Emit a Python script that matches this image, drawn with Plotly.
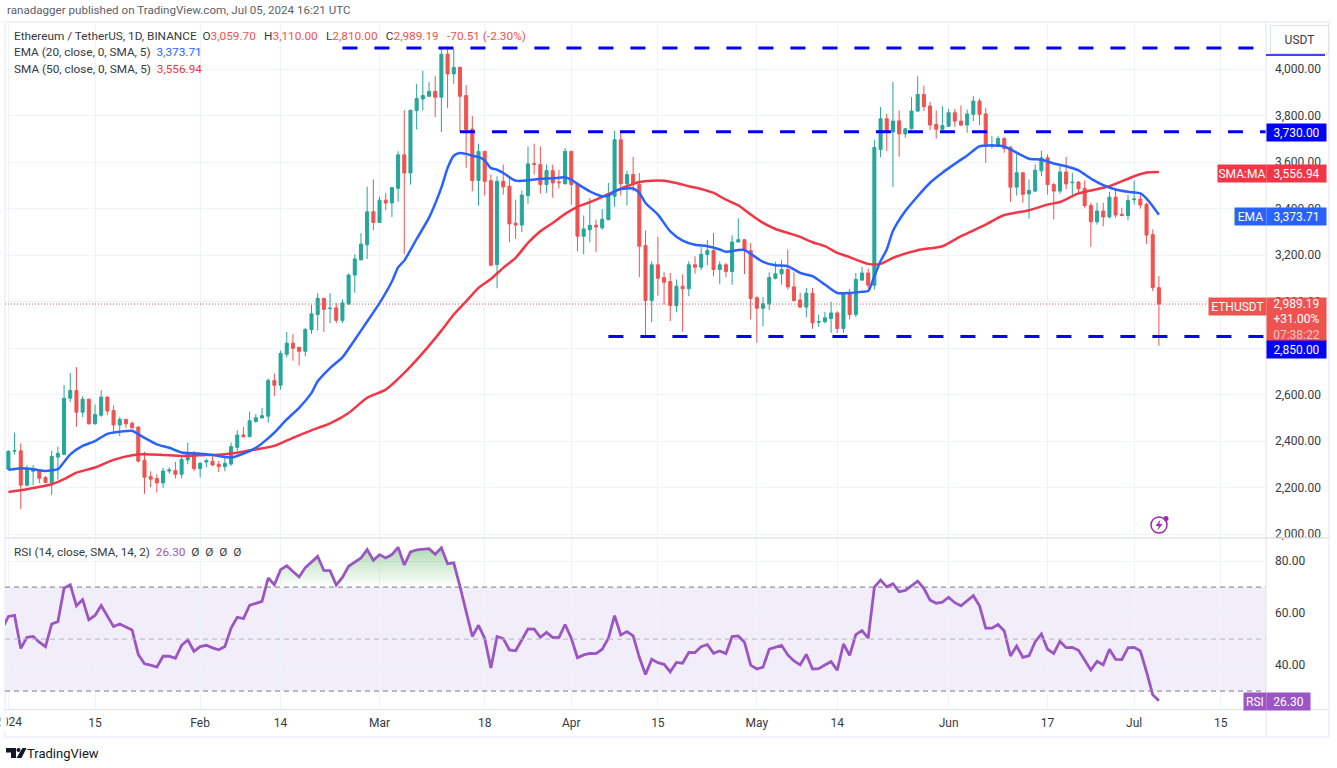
import pandas as pd
import plotly.graph_objects as go
from plotly.subplots import make_subplots

# daily candles ETHUSDT, Jan 1 - Jul 5 2024
opens = [2279,2357,2358,2210,2270,2272,2243,2222,2331,2343,
         2584,2617,2524,2580,2474,2511,2589,2531,2469,2493,
         2476,2460,2317,2247,2239,2220,2271,2273,2257,2319,
         2347,2281,2310,2313,2300,2290,2301,2373,2426,2419,
         2484,2499,2507,2660,2640,2773,2821,2803,2786,2879,
         2944,3014,2970,2973,2919,2990,3114,3179,3244,3386,
         3340,3436,3424,3487,3631,3553,3821,3871,3883,3904,
         3879,4064,3979,4007,3886,3742,3521,3646,3520,3159,
         3517,3496,3337,3329,3456,3593,3589,3503,3563,3514,
         3506,3646,3506,3281,3309,3328,3317,3352,3453,3696,
         3506,3546,3503,3241,3004,3158,3103,3086,2983,3066,
         3055,3158,3148,3202,3219,3138,3158,3129,3256,3266,
         3219,3016,2971,2990,3100,3119,3138,3063,3007,2976,
         3036,2911,2913,2927,2951,2884,3036,2944,3092,3123,
         3070,3654,3786,3729,3777,3721,3743,3819,3891,3841,
         3762,3741,3754,3812,3776,3759,3805,3862,3807,3671,
         3673,3701,3664,3492,3554,3463,3475,3562,3618,3503,
         3475,3557,3511,3514,3486,3413,3343,3389,3364,3449,
         3375,3370,3438,3441,3418,3288,3059.70]
highs = [2360,2436,2390,2296,2296,2280,2250,2358,2376,2641,
         2693,2718,2593,2582,2557,2619,2593,2553,2504,2495,
         2484,2464,2354,2270,2257,2284,2287,2310,2333,2393,
         2357,2310,2324,2333,2314,2336,2393,2447,2461,2527,
         2516,2543,2669,2690,2789,2869,2860,2804,2886,2986,
         3036,3014,3036,2993,3010,3121,3203,3294,3494,3526,
         3451,3466,3490,3646,3823,3823,3936,3993,3943,3969,
         4086,4097,4086,4012,3931,3798,3679,3646,3546,3539,
         3589,3531,3438,3477,3667,3679,3667,3589,3589,3567,
         3660,3646,3510,3370,3445,3352,3398,3510,3735,3732,
         3563,3622,3553,3305,3173,3278,3126,3123,3095,3116,
         3173,3195,3234,3264,3295,3173,3166,3285,3358,3269,
         3252,3023,3020,3126,3171,3178,3224,3126,3037,3059,
         3059,2944,2956,2999,2958,3040,3055,3123,3149,3142,
         3696,3836,3807,3945,3822,3743,3879,3969,3929,3859,
         3822,3840,3829,3829,3843,3826,3883,3873,3833,3711,
         3711,3707,3668,3644,3554,3525,3590,3650,3633,3511,
         3587,3622,3554,3518,3521,3425,3425,3425,3472,3482,
         3403,3458,3521,3460,3425,3310,3110.00]
lows = [2275,2342,2107,2204,2210,2219,2219,2169,2233,2339,
        2569,2461,2503,2472,2471,2504,2511,2431,2421,2457,
        2453,2307,2173,2201,2179,2199,2259,2239,2239,2300,
        2271,2244,2286,2293,2267,2270,2293,2356,2414,2416,
        2479,2499,2479,2593,2621,2760,2746,2724,2764,2861,
        2876,2869,2907,2907,2907,2985,3038,3178,3183,3307,
        3340,3393,3364,3429,3204,3503,3740,3821,3880,3794,
        3729,3833,3936,3730,3575,3474,3413,3456,3152,3057,
        3460,3255,3269,3299,3421,3546,3464,3467,3447,3486,
        3506,3417,3216,3203,3255,3212,3309,3350,3407,3456,
        3413,3474,3105,2854,2911,3026,2987,2916,2954,2870,
        3023,3120,3135,3156,3109,3075,3105,3072,3255,3118,
        2923,2823,2894,2963,3095,3073,3052,3001,2973,2933,
        2883,2891,2906,2865,2865,2865,2923,2934,3092,3056,
        3052,3621,3647,3493,3623,3704,3740,3816,3819,3737,
        3701,3723,3750,3752,3754,3726,3776,3759,3597,3658,
        3664,3640,3429,3456,3425,3357,3472,3539,3460,3353,
        3463,3482,3446,3468,3403,3235,3331,3324,3357,3360,
        3367,3349,3417,3400,3248,3045,2810.00]
closes = [2356,2358,2210,2279,2279,2240,2222,2334,2347,2584,
          2617,2524,2580,2474,2514,2589,2529,2469,2493,2474,
          2457,2314,2244,2236,2220,2271,2276,2257,2321,2347,
          2281,2304,2316,2297,2290,2304,2376,2426,2419,2487,
          2500,2509,2660,2640,2777,2821,2799,2786,2880,2947,
          3014,2966,2971,2919,2994,3114,3183,3247,3386,3340,
          3436,3424,3490,3631,3553,3823,3873,3886,3904,3879,
          4064,3979,4007,3883,3740,3521,3646,3517,3156,3517,
          3493,3334,3329,3458,3592,3590,3503,3563,3510,3511,
          3646,3503,3281,3312,3328,3321,3354,3453,3696,3506,
          3546,3503,3238,3004,3158,3100,3083,2983,3066,3055,
          3158,3148,3203,3219,3138,3158,3129,3256,3266,3219,
          3013,2971,2990,3103,3119,3138,3063,3004,2976,3036,
          2908,2914,2930,2951,2884,3036,2944,3095,3123,3070,
          3663,3786,3729,3776,3721,3743,3819,3891,3838,3759,
          3741,3757,3812,3776,3759,3807,3862,3805,3668,3675,
          3701,3658,3492,3554,3461,3478,3565,3618,3503,3475,
          3557,3506,3513,3485,3413,3343,3389,3364,3449,3372,
          3370,3435,3441,3415,3286,3060,2989.19]

# EMA 20, read every couple of days
ema_day = [0,2,4,6,7,8,9,10,12,14,16,18,20,21,22,24,26,28,30,32,34,36,38,40,41,43,45,47,49,50,
           52,54,56,58,60,62,63,64,66,68,70,71,72,73,74,75,76,77,78,79,80,82,84,86,88,90,91,92,94,96,
           97,98,99,101,102,103,105,107,109,111,113,115,116,118,119,120,122,124,126,128,130,132,134,136,138,139,140,141,142,143,
           145,147,149,151,153,155,157,159,161,163,165,167,169,171,173,175,177,179,181,183,184,185,186]
ema_val = [2276,2283,2279,2271,2274,2279,2310,2343,2379,2400,2431,2440,2444,2429,2414,2386,2371,2351,2347,2343,2336,2329,2346,2371,2390,2436,2493,2543,2607,2657,
           2714,2760,2836,2914,2993,3086,3147,3176,3269,3361,3490,3574,3627,3639,3635,3627,3622,3607,3574,3567,3553,3520,3521,3528,3530,3534,3524,3506,3474,3453,
           3456,3474,3484,3486,3467,3424,3374,3302,3262,3244,3238,3224,3214,3222,3222,3205,3171,3156,3152,3123,3109,3073,3037,3037,3042,3045,3109,3174,3224,3303,
           3389,3453,3511,3554,3592,3628,3668,3671,3667,3640,3614,3610,3594,3582,3564,3529,3501,3482,3472,3465,3443,3410,3373.71]

# SMA 50
sma_day = [0,3,7,9,11,14,17,20,22,25,28,31,34,37,40,43,46,49,52,55,58,61,64,67,70,72,74,76,78,80,
           82,84,86,88,90,92,94,96,98,100,102,104,106,108,110,112,114,116,118,120,122,124,126,128,130,132,134,136,139,141,
           143,147,151,154,158,161,165,168,170,173,178,182,184,186]
sma_val = [2181,2193,2214,2236,2264,2286,2319,2339,2343,2340,2336,2339,2341,2350,2364,2379,2414,2446,2476,2521,2586,2621,2693,2779,2875,2944,3001,3059,3097,3145,
           3188,3252,3302,3338,3377,3407,3427,3450,3474,3496,3514,3520,3520,3510,3496,3484,3467,3438,3414,3374,3338,3312,3295,3278,3255,3238,3209,3191,3162,3162,
           3188,3221,3238,3281,3331,3372,3393,3417,3428,3465,3496,3539,3555,3556.94]

rsi = [58.7,59.1,46.4,50.7,51.0,48.8,47.1,55.8,56.7,69.6,
       70.9,62.8,65.2,57.4,59.1,62.9,58.7,54.8,55.8,54.6,
       53.5,44.1,40.5,40.0,39.2,43.4,43.4,42.6,47.6,49.7,
       45.3,47.1,47.6,46.6,45.9,47.1,54.2,58.4,57.9,63.0,
       63.8,64.5,73.5,70.9,76.7,78.2,76.0,73.9,77.5,79.7,
       81.8,76.4,76.3,70.8,73.7,78.0,79.7,81.2,84.4,80.3,
       82.5,81.2,82.5,85.3,78.5,83.5,84.3,84.5,84.8,82.6,
       85.1,79.0,79.3,70.3,61.2,51.0,55.3,50.3,38.9,51.0,
       50.2,45.8,45.5,49.9,53.9,53.8,50.7,52.6,50.6,50.6,
       55.6,50.3,42.8,43.9,44.5,44.4,46.1,50.3,59.0,51.6,
       52.9,51.2,43.0,36.4,42.2,40.9,40.3,37.4,41.0,40.7,
       44.9,44.8,47.1,47.9,44.5,45.4,44.4,51.0,51.2,48.8,
       40.0,38.5,39.2,46.1,46.8,47.6,43.9,41.6,40.1,44.1,
       38.5,38.6,40.0,41.3,38.0,48.1,43.7,51.7,53.3,50.4,
       70.0,72.7,70.1,71.3,68.2,68.7,70.5,72.3,69.5,65.0,
       63.8,64.2,66.1,64.0,62.8,64.6,66.7,62.8,54.2,54.2,
       55.6,53.1,43.5,47.3,43.0,43.6,49.0,52.0,46.1,44.5,
       49.1,46.7,46.8,45.7,41.7,38.1,41.4,40.1,46.1,42.2,
       42.1,46.6,46.8,45.4,37.4,28.6,26.3]
rsi_dec31 = 54.0  # the day before the first candle, just visible at the left edge

# drawn levels (first day, price)
level_day = ["2024-02-24", "2024-03-14", "2024-04-07"]
level_val = [4090, 3730, 2850]

price_ticks = [2000, 2200, 2400, 2600, 2800, 3000, 3200, 3400, 3600, 3800, 4000]
rsi_ticks = [40, 60, 80]
time_ticks = ["2024-01-01", "2024-01-15", "2024-02-01", "2024-02-14", "2024-03-01", "2024-03-18", "2024-04-01",
              "2024-04-15", "2024-05-01", "2024-05-14", "2024-06-01", "2024-06-17", "2024-07-01", "2024-07-15"]
time_text = ["2024", "15", "Feb", "14", "Mar", "18", "Apr", "15", "May", "14", "Jun", "17", "Jul", "15"]

FONT = "Roboto"
UP = "#26a69a"
DOWN = "#ef5350"
GRID = "#f0f3fa"
TXT = "#363a45"
X_RANGE = ["2023-12-31 10:48", "2024-07-22 07:30"]

dates = pd.date_range("2024-01-01", periods=len(closes))


# pixel position on the page -> paper coords
def px(x):
    return (x - 5) / 1261


def py(y):
    return (709 - y) / 687


fig = make_subplots(rows=2, cols=1, shared_xaxes=True, row_heights=[515, 170], vertical_spacing=2 / 687)

fig.add_trace(go.Candlestick(x=dates, open=opens, high=highs, low=lows, close=closes,
                             increasing=dict(line=dict(color=UP, width=1), fillcolor=UP),
                             decreasing=dict(line=dict(color=DOWN, width=1), fillcolor=DOWN),
                             whiskerwidth=0), row=1, col=1)
fig.add_trace(go.Scatter(x=dates[sma_day], y=sma_val, mode="lines",
                         line=dict(color="#f23645", width=2.5, shape="spline", smoothing=0.6)), row=1, col=1)
fig.add_trace(go.Scatter(x=dates[ema_day], y=ema_val, mode="lines",
                         line=dict(color="#2962ff", width=2.5, shape="spline", smoothing=0.6)), row=1, col=1)

# last price, dotted
fig.add_trace(go.Scatter(x=[X_RANGE[0], "2024-07-13"], y=[closes[-1], closes[-1]], mode="lines",
                         line=dict(color=DOWN, width=1, dash="1px,2px")), row=1, col=1)

# hand drawn support / resistance
for day, val in zip(level_day, level_val):
    fig.add_trace(go.Scatter(x=[day, X_RANGE[1]], y=[val, val], mode="lines",
                             line=dict(color="#0000ff", width=3, dash="15px,17px")), row=1, col=1)

# overbought part of the RSI
ob_idx = list(range(41, 75))
fig.add_trace(go.Scatter(x=dates[ob_idx], y=[max(rsi[i], 70) for i in ob_idx], mode="lines", line=dict(width=0),
                         fill="toself",
                         fillgradient=dict(type="vertical", colorscale=[[0, "rgba(76,175,80,0)"], [1, "rgba(76,175,80,0.45)"]])),
              row=2, col=1)
fig.add_trace(go.Scatter(x=["2023-12-31"] + list(dates), y=[rsi_dec31] + rsi, mode="lines",
                         line=dict(color="#9b55c4", width=2.8)), row=2, col=1)

# RSI band and its dashed lines
fig.add_shape(type="rect", xref="x2 domain", yref="y2", x0=0, x1=1, y0=30, y1=70,
              fillcolor="rgba(126,87,194,0.1)", line_width=0, layer="below")
for lvl, col in [(70, "#787b86"), (50, "#b2b5be"), (30, "#787b86")]:
    fig.add_shape(type="line", xref="x2 domain", yref="y2", x0=0, x1=1, y0=lvl, y1=lvl,
                  line=dict(color=col, width=1, dash="5px,4px"))

# frame and separators
fig.add_shape(type="rect", xref="paper", yref="paper", x0=px(5), x1=px(1329), y0=py(22), y1=py(737),
              line=dict(color=GRID, width=2), layer="below")
fig.add_shape(type="line", xref="paper", yref="paper", x0=px(1266), x1=px(1266), y0=py(22), y1=py(737),
              line=dict(color="#e0e3eb", width=1))
fig.add_shape(type="line", xref="paper", yref="paper", x0=px(5), x1=px(1329), y0=py(538), y1=py(538),
              line=dict(color="#e0e3eb", width=1.5))
fig.add_shape(type="line", xref="paper", yref="paper", x0=px(5), x1=px(1329), y0=py(709.5), y1=py(709.5),
              line=dict(color="#e0e3eb", width=1))
# bottom edge of the level tag that sits under the USDT button
fig.add_shape(type="line", xref="paper", yref="paper", x0=px(1266), x1=px(1325), y0=py(55), y1=py(55),
              line=dict(color="#0000ff", width=1.5))

# alert icon
fig.add_shape(type="circle", xref="paper", yref="paper", x0=px(1151), x1=px(1167), y0=py(517), y1=py(533),
              line=dict(color="#9c27b0", width=1.5), fillcolor="white")
fig.add_shape(type="circle", xref="paper", yref="paper", x0=px(1163.5), x1=px(1168.5), y0=py(516), y1=py(521),
              line_width=0, fillcolor="#9c27b0")
bolt = [(1160.5, 519.5), (1155.5, 526), (1158.8, 526), (1157.5, 530.5), (1162.5, 524), (1159.2, 524)]
fig.add_shape(type="path", xref="paper", yref="paper", line_width=0, fillcolor="#9c27b0",
              path="M " + " L ".join(f"{px(a)} {py(b)}" for a, b in bolt) + " Z")

# TradingView logo
logo = [[(6, 748), (16, 748), (16, 758), (11, 758), (11, 752.5), (6, 752.5)],
        [(22.5, 748), (26.5, 748), (21.5, 758), (16.5, 758)]]
for pts in logo:
    fig.add_shape(type="path", xref="paper", yref="paper", line_width=0, fillcolor="#131722",
                  path="M " + " L ".join(f"{px(a)} {py(b)}" for a, b in pts) + " Z")
fig.add_shape(type="circle", xref="paper", yref="paper", x0=px(16.5), x1=px(20.5), y0=py(748), y1=py(752),
              line_width=0, fillcolor="#131722")


def label(x, y, text, size=11.8, color=TXT):
    fig.add_annotation(xref="paper", yref="paper", x=px(x), y=py(y), xanchor="left", yanchor="middle",
                       text=text, showarrow=False, font=dict(family=FONT, size=size, color=color))


def tag(x, y, w, h, text, bg, size=12):
    fig.add_annotation(xref="paper", yref="paper", x=px(x), y=py(y), xanchor="left", yanchor="top", width=w, height=h,
                       text=text, showarrow=False, bgcolor=bg, borderpad=0, align="center",
                       font=dict(family=FONT, size=size, color="white"))


label(5, 10, "ranadagger published on TradingView.com, Jul 05, 2024 16:21 UTC", size=11.6, color="#5d606b")
red = DOWN
gap = "  \u2009"
label(12, 36, "Ethereum / TetherUS, 1D, BINANCE  O<span style='color:%s'>3,059.70</span>%sH<span style='color:%s'>3,110.00</span>"
              "%sL<span style='color:%s'>2,810.00</span>%sC<span style='color:%s'>2,989.19</span>"
              "%s<span style='color:%s'>-70.51 (-2.30%%)</span>" % (red, gap, red, gap, red, gap, red, gap, red))
label(12, 52, "EMA (20, close, 0, SMA, 5)  <span style='color:#2962ff'>3,373.71</span>")
label(12, 69, "SMA (50, close, 0, SMA, 5)  <span style='color:#f23645'>3,556.94</span>")
label(12, 552, "RSI (14, close, SMA, 14, 2)  <span style='color:#9b55c4'>26.30</span>  Ø  Ø  Ø  Ø")
label(25, 753, "TradingView", size=13, color="#131722")

# first time label is cut by the frame in the original
fig.add_annotation(xref="paper", yref="paper", x=px(8.4), y=py(722), xanchor="center", yanchor="middle",
                   text="2024", showarrow=False, font=dict(family=FONT, size=12, color=TXT))
fig.add_annotation(xref="paper", yref="paper", x=px(0), y=py(714), xanchor="left", yanchor="top", width=5, height=16,
                   text=" ", showarrow=False, bgcolor="white", borderpad=0)

# axis tags
fig.add_annotation(xref="paper", yref="paper", x=px(1270), y=py(25), xanchor="left", yanchor="top", width=55, height=25,
                   text="USDT", showarrow=False, bgcolor="white", bordercolor="#e0e3eb", borderwidth=1,
                   font=dict(family=FONT, size=12, color=TXT))
tag(1266, 123, 59, 17, "3,730.00", "#0000ff")
tag(1217, 164, 48, 17, "SMA:MA", "#f23645")
tag(1266, 164, 59, 17, "3,556.94", "#f23645")
tag(1234, 207, 31, 17, "EMA", "#2962ff")
tag(1266, 207, 59, 17, "3,373.71", "#2962ff")
tag(1208, 297, 57, 17, "ETHUSDT", DOWN)
tag(1266, 297, 59, 43, "2,989.19<br>+31.00%<br><span style='color:#f9c4c3'>07:38:22</span>", DOWN)
tag(1266, 340, 59, 17, "2,850.00", "#0000ff")
tag(1243, 692, 22, 17, "RSI", "#9b55c4")
tag(1266, 692, 43, 17, "26.30", "#9b55c4")

fig.update_layout(width=1337, height=768, showlegend=False, paper_bgcolor="white", plot_bgcolor="white",
                  margin=dict(l=5, r=71, t=22, b=59), font=dict(family=FONT, size=12, color=TXT), hovermode=False)
fig.update_xaxes(range=X_RANGE, tickvals=time_ticks, ticktext=time_text, showgrid=True, gridcolor=GRID, gridwidth=1,
                 zeroline=False, showline=False, ticks="", rangeslider_visible=False, tickfont=dict(size=12),
                 ticklabelstandoff=5)
fig.update_yaxes(side="right", showgrid=True, gridcolor=GRID, gridwidth=1, zeroline=False, showline=False, ticks="",
                 tickformat=",.2f", ticklabelstandoff=8, tickfont=dict(size=12))
fig.update_yaxes(range=[1987.3, 4202.3], tickvals=price_ticks, row=1, col=1)
fig.update_yaxes(range=[23.1, 88.5], tickvals=rsi_ticks, row=2, col=1)

fig.write_html("out.html", config={"displayModeBar": False}, post_script="document.body.style.margin='0'")
